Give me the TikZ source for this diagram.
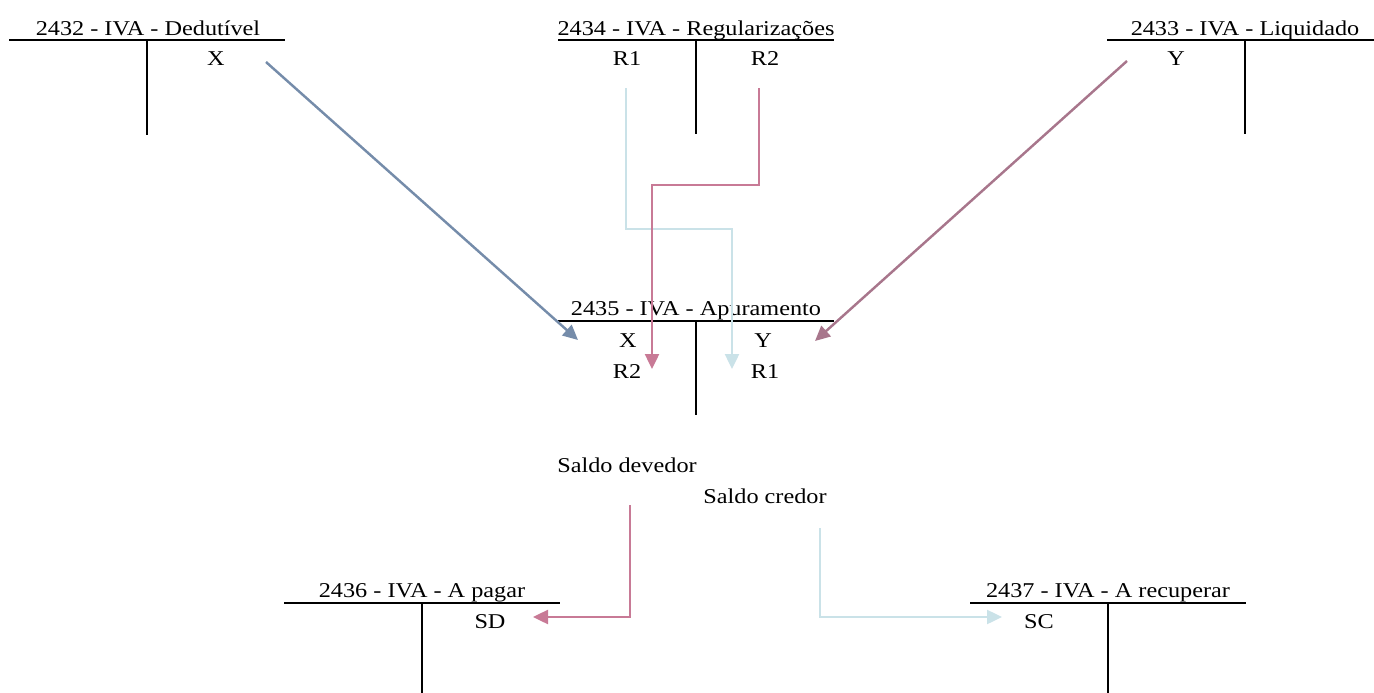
\documentclass[tikz,border=0pt]{standalone}
\usepackage{fontspec}
\setmainfont{Liberation Serif}[FakeStretch=1.15]
\usetikzlibrary{arrows.meta}
\definecolor{ivaslate}{RGB}{117,140,170}
\definecolor{ivamauve}{RGB}{168,118,140}
\definecolor{ivarose}{RGB}{200,122,150}
\definecolor{ivaice}{RGB}{202,226,232}

\begin{document}
\begin{tikzpicture}[x=0.02cm,y=-0.02cm,
  conta/.style={line width=1.4pt,color=black},
  lanc/.style={font=\fontsize{12}{14}\selectfont,anchor=base,inner sep=0pt},
  seta/.style={line width=1.4pt,-{Triangle[length=3mm,width=2.8mm]}}]
  \useasboundingbox (0,0) rectangle (1374,693);

  \draw [conta] (9,40) -- (285,40);
  \draw [conta] (147,40) -- (147,135);
  \node [lanc] (dedTit) at (148,35) {2432 - IVA - Dedutível};
  \node [lanc] (dedX) at (216,65) {X};

  \draw [conta] (558,40) -- (834,40);
  \draw [conta] (696,40) -- (696,134);
  \node [lanc] (regTit) at (696,35) {2434 - IVA - Regularizações};
  \node [lanc] (regR1) at (627,65) {R1};
  \node [lanc] (regR2) at (765,65) {R2};

  \draw [conta] (1107,40) -- (1383,40);
  \draw [conta] (1245,40) -- (1245,134);
  \node [lanc] (liqTit) at (1245,35) {2433 - IVA - Liquidado};
  \node [lanc] (liqY) at (1176,65) {Y};

  \draw [conta] (558,321) -- (834,321);
  \draw [conta] (696,321) -- (696,415);
  \node [lanc] (apuTit) at (696,315) {2435 - IVA - Apuramento};
  \node [lanc] (apuX) at (628,347) {X};
  \node [lanc] (apuY) at (763,347) {Y};
  \node [lanc] (apuR2) at (627,378) {R2};
  \node [lanc] (apuR1) at (765,378) {R1};

  \node [lanc] (saldoDev) at (627,472) {Saldo devedor};
  \node [lanc] (saldoCred) at (765,503) {Saldo credor};

  \draw [conta] (284,603) -- (560,603);
  \draw [conta] (422,603) -- (422,698);
  \node [lanc] (pagTit) at (422,597) {2436 - IVA - A pagar};
  \node [lanc] (pagSD) at (490,628) {SD};

  \draw [conta] (970,603) -- (1246,603);
  \draw [conta] (1108,603) -- (1108,698);
  \node [lanc] (recTit) at (1108,597) {2437 - IVA - A recuperar};
  \node [lanc] (recSC) at (1039,628) {SC};

  \coordinate (dedOut) at (266,62);
  \coordinate (apuXin) at (578,340);
  \coordinate (liqOut) at (1127,61);
  \coordinate (apuYin) at (815,341);
  \coordinate (regR2out) at (759,88);
  \coordinate (apuR2in) at (652,369);
  \coordinate (regR1out) at (626,88);
  \coordinate (apuR1in) at (732,369);
  \coordinate (saldoDevOut) at (630,505);
  \coordinate (pagSDin) at (533,617);
  \coordinate (saldoCredOut) at (820,528);
  \coordinate (recSCin) at (1002,617);

  \draw [seta,color=ivaslate] (dedOut) -- (apuXin);
  \draw [seta,color=ivamauve] (liqOut) -- (apuYin);
  \draw [seta,color=ivaice] (regR1out) -- ++(0,141) -| (apuR1in);
  \draw [seta,color=ivarose] (regR2out) -- ++(0,97) -| (apuR2in);
  \draw [seta,color=ivarose] (saldoDevOut) |- (pagSDin);
  \draw [seta,color=ivaice] (saldoCredOut) |- (recSCin);

\end{tikzpicture}
\end{document}
